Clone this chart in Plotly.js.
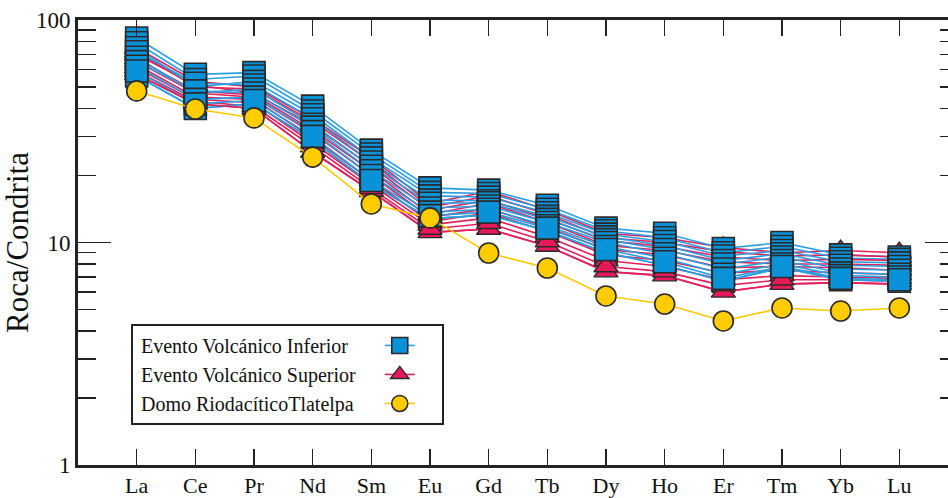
<!DOCTYPE html>
<html>
<head>
<meta charset="utf-8">
<script src="https://cdn.plot.ly/plotly-3.0.1.min.js"></script>
<style>
html,body{margin:0;padding:0;overflow:hidden;background:#fff;}
#chart{width:960px;height:498px;}
</style>
</head>
<body>
<div id="chart"></div>
<script>
// Elementos de tierras raras
const elements = ['La','Ce','Pr','Nd','Sm','Eu','Gd','Tb','Dy','Ho','Er','Tm','Yb','Lu'];

// Evento Volcánico Inferior (muestras)
const eventoInferior = [
  [83, 57, 58, 41, 26, 17.6, 17.2, 14.7, 11.6, 11.0, 9.4, 10.0, 8.8, 8.6],
  [79, 54, 56, 39, 25, 16.8, 16.6, 14.1, 11.3, 10.5, 9.0, 9.6, 8.5, 8.4],
  [75, 50, 53, 37.5, 24, 16.2, 16.0, 13.6, 10.9, 10.1, 8.7, 9.2, 8.2, 8.1],
  [72, 52, 51, 36, 23, 15.5, 15.4, 13.1, 10.6, 9.7, 8.3, 8.9, 7.9, 7.8],
  [68, 47, 49, 34, 22, 15.0, 15.1, 12.7, 10.3, 9.3, 8.0, 8.6, 7.6, 7.5],
  [65, 48, 47, 33, 21, 14.3, 14.6, 12.3, 10.0, 8.9, 7.6, 8.3, 7.3, 7.2],
  [62, 44, 45, 31.5, 20, 13.7, 14.1, 11.9, 9.6, 8.5, 7.2, 8.0, 7.1, 7.0],
  [59, 42, 43.5, 30, 19, 13.2, 13.7, 11.6, 9.3, 8.2, 6.9, 7.8, 6.9, 6.8],
  [56, 40, 42, 29, 18.3, 12.8, 13.3, 11.3, 9.0, 7.9, 6.7, 7.7, 6.8, 6.7]
];

// Evento Volcánico Superior (muestras)
const eventoSuperior = [
  [75, 53, 50, 36, 24, 15.0, 17.0, 14.0, 11.0, 10.5, 9.5, 9.0, 9.2, 9.0],
  [72, 50, 49, 35, 23, 14.4, 16.2, 13.4, 10.5, 10.0, 9.1, 8.7, 8.8, 8.6],
  [70, 51, 47, 33.5, 22, 14.0, 15.5, 12.8, 10.2, 9.6, 8.6, 8.3, 8.4, 8.3],
  [67, 48, 46, 32, 21, 13.4, 15.0, 12.3, 9.7, 9.2, 8.2, 8.0, 8.0, 7.9],
  [65, 47, 45, 31, 20, 13.0, 14.2, 11.7, 9.3, 8.8, 7.7, 7.8, 7.7, 7.5],
  [63, 45, 44, 29.5, 19, 12.4, 13.6, 11.2, 8.8, 8.3, 7.3, 7.5, 7.3, 7.2],
  [61, 44, 42.5, 28, 18.2, 12.0, 12.9, 10.6, 8.3, 7.8, 6.8, 7.1, 7.0, 6.9],
  [59, 43, 41, 27, 17.5, 11.5, 12.2, 10.1, 7.8, 7.4, 6.4, 6.8, 6.8, 6.7],
  [57, 42, 40, 25.5, 17, 11.1, 11.5, 9.65, 7.4, 7.1, 6.0, 6.5, 6.6, 6.5]
];

// Domo Riodacítico Tlatelpa
const domoTlatelpa = [48, 39.8, 36.3, 24.2, 14.9, 12.9, 8.97, 7.68, 5.75, 5.29, 4.44, 5.08, 4.92, 5.08];

const names = ['Evento Volcánico Inferior', 'Evento Volcánico Superior', 'Domo RiodacíticoTlatelpa'];

const blueLine = '#2a9fe0', blueFill = '#0a92d8';
const redLine = '#e2215c', redFill = '#e8195a';
const yelLine = '#ffc800', yelFill = '#ffcc00';
const edge = '#2a2a2a';

const traces = [];
// 1. line-only traces (interleaved)
for (let i = 0; i < Math.max(eventoInferior.length, eventoSuperior.length); i++) {
  if (eventoSuperior[i]) traces.push({x: elements, y: eventoSuperior[i], mode: 'lines', line: {color: redLine, width: 1.6}, showlegend: false, hoverinfo: 'skip'});
  if (eventoInferior[i]) traces.push({x: elements, y: eventoInferior[i], mode: 'lines', line: {color: blueLine, width: 1.6}, showlegend: false, hoverinfo: 'skip'});
}
const sqMarker = {symbol: 'square', size: 22, color: blueFill, line: {color: edge, width: 1.6}};
const trMarker = {symbol: 'triangle-up', size: 21, color: redFill, line: {color: edge, width: 1.4}};
// 2. legend-bearing traces
traces.push({x: elements, y: eventoInferior[eventoInferior.length - 1], name: names[0], mode: 'lines+markers',
  line: {color: blueLine, width: 1.6}, marker: sqMarker, legendrank: 1});
traces.push({x: elements, y: eventoSuperior[eventoSuperior.length - 1], name: names[1], mode: 'lines+markers',
  line: {color: redLine, width: 1.6}, marker: trMarker, legendrank: 2});
// 3. marker-only traces
eventoSuperior.forEach((s, i) => { if (i < eventoSuperior.length - 1) traces.push({x: elements, y: s, mode: 'markers', marker: trMarker, showlegend: false}); });
eventoInferior.forEach((s, i) => { if (i < eventoInferior.length - 1) traces.push({x: elements, y: s, mode: 'markers', marker: sqMarker, showlegend: false}); });
// 4. domo
traces.push({x: elements, y: domoTlatelpa, name: names[2], mode: 'lines+markers',
  line: {color: yelLine, width: 1.6}, marker: {symbol: 'circle', size: 20, color: yelFill, line: {color: edge, width: 1.6}}, legendrank: 3});

const serif = 'Liberation Serif, Times New Roman, serif';
const minorVals = [];
[1, 10].forEach(d => { for (let k = 2; k <= 9; k++) minorVals.push(k * d); });

const layout = {
  width: 960, height: 498,
  margin: {l: 78, r: 2, t: 20, b: 33},
  paper_bgcolor: '#fff', plot_bgcolor: '#fff',
  font: {family: serif, color: '#111'},
  showlegend: true,
  legend: {
    x: 0.0602, y: 0.317, xanchor: 'left', yanchor: 'top',
    bordercolor: '#222', borderwidth: 2, bgcolor: '#fff',
    font: {family: serif, size: 20, color: '#111'},
    traceorder: 'normal'
  },
  xaxis: {
    type: 'category', range: [-1, 14], tickvals: elements, ticktext: elements,
    ticks: 'inside', ticklen: 16, tickwidth: 1.5, tickcolor: '#222',
    showline: true, linewidth: 3, linecolor: '#222', mirror: 'ticks',
    showgrid: false, zeroline: false, ticklabelstandoff: -1,
    tickfont: {family: serif, size: 22, color: '#111'}
  },
  yaxis: {
    type: 'log', range: [0, 2],
    tickmode: 'array', tickvals: [1, 10, 100], ticktext: ['1', '10', '100'],
    ticks: 'inside', ticklen: 33, tickwidth: 1.5, tickcolor: '#222',
    minor: {tickmode: 'array', tickvals: minorVals, ticks: 'inside', ticklen: 18, tickwidth: 1.5, tickcolor: '#222', showgrid: false},
    showline: true, linewidth: 3, linecolor: '#222', mirror: 'ticks',
    showgrid: false, zeroline: false,
    tickfont: {family: serif, size: 23, color: '#111'},
    title: {text: 'Roca/Condrita', font: {family: serif, size: 31, color: '#111'}, standoff: 12}
  }
};

Plotly.newPlot('chart', traces, layout, {staticPlot: true, displayModeBar: false}).then(gd => {
  // move legend symbols to the right of the text, as in the original figure
  const items = gd.querySelectorAll('.legend .traces');
  let maxW = 0;
  items.forEach(it => {
    const t = it.querySelector('text.legendtext');
    if (t) maxW = Math.max(maxW, t.getComputedTextLength());
  });
  const extra = 22;
  items.forEach(it => {
    const t = it.querySelector('text.legendtext');
    const layers = it.querySelector('g.layers');
    if (t) t.setAttribute('x', 8);
    if (layers) layers.setAttribute('transform', 'translate(' + (maxW + 10 + extra) + ',0)');
  });
  const bg = gd.querySelector('.legend rect.bg');
  if (bg) bg.setAttribute('width', parseFloat(bg.getAttribute('width')) + extra + 26);
  gd.querySelectorAll('.legend [clip-path]').forEach(el => el.removeAttribute('clip-path'));
});
</script>
</body>
</html>
